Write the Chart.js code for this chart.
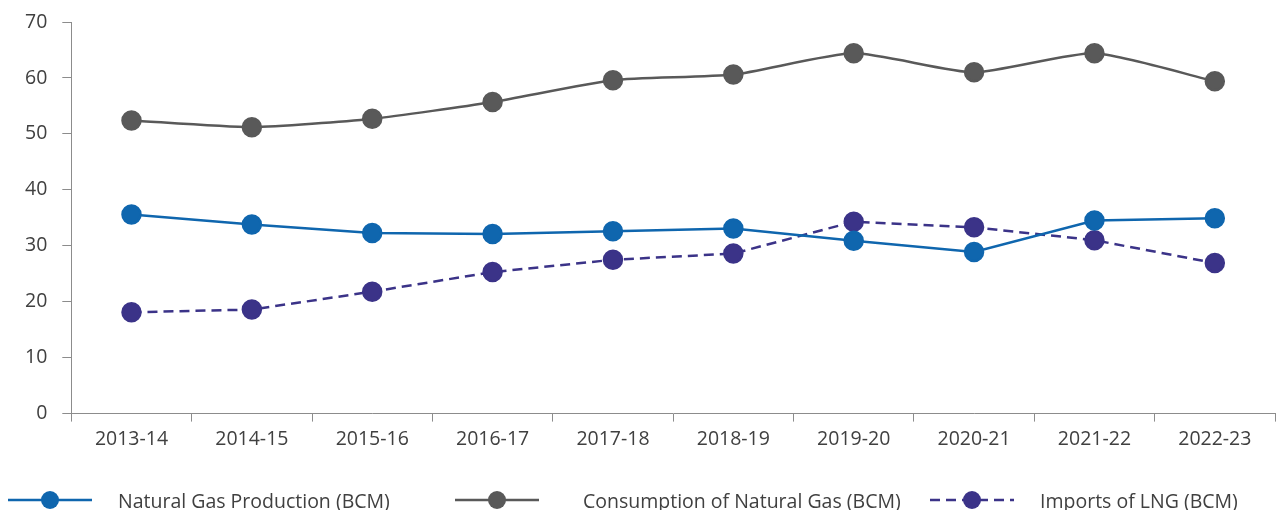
<!DOCTYPE html>
<html>
<head>
<meta charset="utf-8">
<script src="https://cdn.jsdelivr.net/npm/chart.js@4"></script>
<style>
  html, body { margin: 0; padding: 0; background: #fff; }
  #wrap { width: 1277px; height: 510px; }
</style>
</head>
<body>
<div id="wrap"><canvas id="gasChart"></canvas></div>
<script>
// Données
const years = ['2013-14', '2014-15', '2015-16', '2016-17', '2017-18', '2018-19', '2019-20', '2020-21', '2021-22', '2022-23'];
const production = [35.6, 33.8, 32.3, 32.1, 32.6, 33.1, 30.9, 28.9, 34.5, 34.9];
const consumption = [52.4, 51.2, 52.7, 55.7, 59.6, 60.6, 64.4, 61.0, 64.4, 59.4];
const lngImports = [18.1, 18.6, 21.8, 25.3, 27.5, 28.6, 34.3, 33.3, 31.0, 26.9];
const yTicks = [0, 10, 20, 30, 40, 50, 60, 70];

const FONT = '"Open Sans", "Noto Sans", sans-serif';
const FONT_SIZE = 19.5;
const TEXT = '#404040';
const AXIS = '#8c8c8c';

// Légende dessinée à la main (trait long + point au milieu)
const legendPlacement = [
    { line: 8, text: 118 },
    { line: 455, text: 583 },
    { line: 930, text: 1040 }
];

const customLegend = {
    id: 'customLegend',
    afterDraw(chart) {
        const ctx = chart.ctx;
        const y = 500;
        chart.data.datasets.forEach((ds, i) => {
            const p = legendPlacement[i];
            ctx.save();
            ctx.strokeStyle = ds.borderColor;
            ctx.lineWidth = ds.borderWidth;
            ctx.setLineDash(ds.borderDash || []);
            ctx.beginPath();
            ctx.moveTo(p.line, y);
            ctx.lineTo(p.line + 84, y);
            ctx.stroke();
            ctx.setLineDash([]);
            ctx.fillStyle = ds.pointBackgroundColor;
            ctx.beginPath();
            ctx.arc(p.line + 42, y, 9, 0, Math.PI * 2);
            ctx.fill();
            ctx.fillStyle = TEXT;
            ctx.font = FONT_SIZE + 'px ' + FONT;
            ctx.textBaseline = 'middle';
            ctx.fillText(ds.label, p.text, y + 2);
            ctx.restore();
        });
    }
};

const ctx = document.getElementById('gasChart').getContext('2d');
new Chart(ctx, {
    type: 'line',
    data: {
        labels: years,
        datasets: [{
            label: 'Natural Gas Production (BCM)',
            data: production,
            borderColor: '#0f66ae',
            pointBackgroundColor: '#0f66ae',
            pointBorderColor: '#0f66ae',
            borderWidth: 2.5,
            pointRadius: 9,
            tension: 0
        }, {
            label: 'Consumption of Natural Gas (BCM)',
            data: consumption,
            borderColor: '#595959',
            pointBackgroundColor: '#595959',
            pointBorderColor: '#595959',
            borderWidth: 2.5,
            pointRadius: 9,
            tension: 0.2
        }, {
            label: 'Imports of LNG (BCM)',
            data: lngImports,
            borderColor: '#3b3388',
            pointBackgroundColor: '#3b3388',
            pointBorderColor: '#3b3388',
            borderWidth: 2.5,
            borderDash: [10, 6],
            pointRadius: 9,
            tension: 0
        }]
    },
    options: {
        responsive: true,
        maintainAspectRatio: false,
        animation: false,
        layout: { autoPadding: false, padding: { left: 10, right: 2, top: 22, bottom: 53 } },
        plugins: {
            legend: { display: false },
            tooltip: { enabled: false }
        },
        scales: {
            x: {
                offset: true,
                afterFit: scale => { scale.paddingLeft = 0; scale.paddingRight = 0; },
                grid: { offset: true, drawOnChartArea: false, tickLength: 8, color: AXIS },
                border: { color: AXIS, width: 1 },
                ticks: { color: TEXT, font: { family: FONT, size: FONT_SIZE }, padding: 6, maxRotation: 0 }
            },
            y: {
                min: yTicks[0],
                max: yTicks[yTicks.length - 1],
                afterBuildTicks: axis => { axis.ticks = yTicks.map(v => ({ value: v })); },
                afterFit: scale => { scale.paddingTop = 0; scale.paddingBottom = 0; },
                grid: { drawOnChartArea: false, tickLength: 9, color: AXIS },
                border: { color: AXIS, width: 1 },
                ticks: { color: TEXT, font: { family: FONT, size: FONT_SIZE }, padding: 15 }
            }
        }
    },
    plugins: [customLegend]
});
</script>
</body>
</html>
